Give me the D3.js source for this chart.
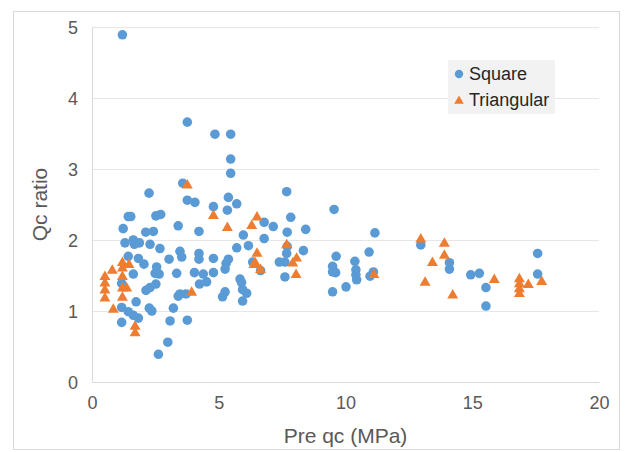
<!DOCTYPE html>
<html>
<head>
<meta charset="utf-8">
<script src="https://cdn.jsdelivr.net/npm/d3@7"></script>
<style>
  body { margin: 0; background: #fff; }
  svg { font-family: "Liberation Sans", Arial, sans-serif; }
</style>
</head>
<body>
<div id="chart"></div>
<script>
//** data
const squareX = [1.20, 3.76, 4.85, 5.47, 5.47, 5.47, 3.58, 2.25, 7.68, 5.38, 3.76, 4.06, 5.71, 4.79, 9.55, 5.34,
  1.43, 1.53, 2.52, 2.71, 7.84, 6.79, 3.40, 7.15, 1.23, 2.12, 2.42, 4.22, 7.70, 8.43, 11.16, 5.97, 6.79,
  1.30, 1.63, 1.67, 1.87, 2.29, 12.97, 6.17, 7.70, 5.71, 2.68, 8.34, 3.47, 10.93, 4.22, 7.68, 17.58,
  3.54, 9.63, 1.43, 1.83, 4.79, 4.22, 3.04, 5.38, 10.37, 6.34, 7.39, 7.61, 14.10, 5.29, 2.05, 9.49,
  2.55, 5.25, 14.10, 10.41, 6.65, 9.49, 11.10, 9.61, 4.04, 4.79, 2.49, 3.34, 15.28, 17.58, 2.65, 4.39,
  1.63, 14.94, 10.41, 10.97, 7.61, 5.84, 10.44, 4.52, 5.90, 1.17, 2.52, 4.24, 10.02, 2.29, 15.54,
  5.94, 2.13, 9.49, 5.25, 6.10, 3.47, 3.71, 3.40, 5.15, 5.94, 1.74, 15.54, 1.17, 2.26, 3.21, 2.36,
  1.43, 1.63, 1.83, 3.76, 3.08, 1.17, 2.99, 2.62];
const squareY = [4.89, 3.66, 3.49, 3.49, 3.14, 2.94, 2.80, 2.66, 2.68, 2.60, 2.56, 2.53, 2.51, 2.47, 2.43, 2.42,
  2.33, 2.33, 2.34, 2.36, 2.32, 2.25, 2.20, 2.19, 2.16, 2.11, 2.12, 2.12, 2.11, 2.15, 2.10, 2.07, 2.02,
  1.96, 2.00, 1.94, 1.96, 1.94, 1.93, 1.92, 1.91, 1.89, 1.88, 1.85, 1.84, 1.83, 1.81, 1.81, 1.81,
  1.76, 1.77, 1.77, 1.74, 1.74, 1.73, 1.73, 1.73, 1.70, 1.69, 1.69, 1.69, 1.68, 1.67, 1.66, 1.63,
  1.62, 1.59, 1.59, 1.58, 1.57, 1.55, 1.55, 1.54, 1.54, 1.54, 1.53, 1.53, 1.53, 1.52, 1.52, 1.52,
  1.52, 1.51, 1.51, 1.49, 1.48, 1.45, 1.44, 1.41, 1.40, 1.39, 1.38, 1.38, 1.34, 1.33, 1.33,
  1.30, 1.29, 1.27, 1.27, 1.25, 1.24, 1.24, 1.21, 1.20, 1.14, 1.13, 1.07, 1.05, 1.04, 1.04, 1.00,
  0.99, 0.94, 0.90, 0.87, 0.86, 0.84, 0.56, 0.39];

const triangularX = [3.76, 0.51, 0.51, 0.51, 0.51, 0.80, 1.20, 1.20, 1.46, 1.20, 1.20, 1.20, 1.37, 0.84, 3.93,
  1.70, 1.70, 4.79, 5.34, 6.51, 6.30, 7.68, 6.51, 6.43, 6.39, 6.65, 8.07, 7.92, 8.05, 11.12, 12.97,
  13.14, 13.90, 13.90, 13.43, 14.23, 15.87, 16.86, 16.86, 16.86, 16.86, 17.21, 17.74];
const triangularY = [2.77, 1.48, 1.39, 1.29, 1.18, 1.57, 1.68, 1.60, 1.65, 1.48, 1.32, 1.19, 1.32, 1.02, 1.26,
  0.78, 0.69, 2.34, 2.17, 2.32, 2.20, 1.93, 1.81, 1.68, 1.65, 1.58, 1.74, 1.67, 1.51, 1.51, 2.01,
  1.40, 1.95, 1.78, 1.68, 1.22, 1.44, 1.45, 1.38, 1.31, 1.24, 1.37, 1.41];

const xTicks = [0, 5, 10, 15, 20];
const yTicks = [0, 1, 2, 3, 4, 5];

const seriesNames = ['Square', 'Triangular'];
const seriesColors = ['#5b9bd5', '#ed7d31'];

//** layout
const W = 629, H = 452;
const margins = {left: 92, right: 30, top: 27, bottom: 70};
const w = W - margins.left - margins.right;
const h = H - margins.top - margins.bottom;
const textGray = '#595959';

const svg = d3.select('#chart').append('svg')
  .attr('width', W)
  .attr('height', H);

//** outer chart border
svg.append('rect')
  .attr('x', 13.5).attr('y', 11.5)
  .attr('width', 606).attr('height', 438)
  .attr('fill', '#fff')
  .attr('stroke', '#d9d9d9');

const g = svg.append('g')
  .attr('transform', 'translate(' + margins.left + ',' + margins.top + ')');

//** scales
const x = d3.scaleLinear().domain([0, 20]).range([0, w]);
const y = d3.scaleLinear().domain([0, 5]).range([h, 0]);

//** horizontal gridlines
g.append('g')
  .attr('class', 'grid')
  .call(d3.axisLeft(y).tickValues(yTicks.slice(1)).tickSize(-w).tickFormat(''))
  .call(s => s.select('.domain').remove())
  .call(s => s.selectAll('line').attr('stroke', '#e6e6e6'));

//** x axis
g.append('g')
  .attr('class', 'xx axis')
  .attr('transform', 'translate(0,' + h + ')')
  .call(d3.axisBottom(x).tickValues(xTicks).tickFormat(d3.format('d')).tickSize(0).tickPadding(14))
  .call(s => s.select('.domain').attr('stroke', '#d9d9d9'))
  .call(s => s.selectAll('text')
    .attr('fill', textGray)
    .style('font-size', '18px'));

//** y axis
g.append('g')
  .attr('class', 'yy axis')
  .call(d3.axisLeft(y).tickValues(yTicks).tickFormat(d3.format('d')).tickSize(0).tickPadding(14))
  .call(s => s.select('.domain').attr('stroke', '#d9d9d9'))
  .call(s => s.selectAll('text')
    .attr('fill', textGray)
    .attr('dy', '0.35em')
    .style('font-size', '18px'));

//** axis titles
svg.append('text')
  .attr('x', margins.left + w / 2)
  .attr('y', 443)
  .attr('text-anchor', 'middle')
  .attr('fill', textGray)
  .style('font-size', '21px')
  .text('Pre qc (MPa)');

svg.append('text')
  .attr('transform', 'translate(47,' + (margins.top + h / 2) + ') rotate(-90)')
  .attr('text-anchor', 'middle')
  .attr('fill', textGray)
  .style('font-size', '21px')
  .text('Qc ratio');

//** points
const squareData = squareX.map((v, i) => ({x: v, y: squareY[i]}));
const triangularData = triangularX.map((v, i) => ({x: v, y: triangularY[i]}));

const circle = d3.symbol().type(d3.symbolCircle).size(72);
const triangle = d3.symbol().type(d3.symbolTriangle).size(52);

g.append('g').selectAll('path')
  .data(squareData)
  .enter().append('path')
  .attr('d', circle)
  .attr('fill', seriesColors[0])
  .attr('transform', d => 'translate(' + x(d.x) + ',' + y(d.y) + ')');

g.append('g').selectAll('path')
  .data(triangularData)
  .enter().append('path')
  .attr('d', triangle)
  .attr('fill', seriesColors[1])
  .attr('transform', d => 'translate(' + x(d.x) + ',' + y(d.y) + ')');

//** legenda
const gLegenda = svg.append('g').attr('transform', 'translate(448,60)');
gLegenda.append('rect')
  .attr('width', 107).attr('height', 54)
  .attr('fill', '#f2f2f2');

seriesNames.forEach((name, i) => {
  const item = gLegenda.append('g')
    .attr('transform', 'translate(0,' + (14 + i * 26) + ')');
  item.append('path')
    .attr('d', d3.symbol().type(i ? d3.symbolTriangle : d3.symbolCircle).size(i ? 40 : 55))
    .attr('fill', seriesColors[i])
    .attr('transform', 'translate(11,' + (i ? 1 : 0) + ')');
  item.append('text')
    .attr('x', 21)
    .attr('dy', '0.35em')
    .attr('fill', '#262626')
    .style('font-size', '18px')
    .text(name);
});
</script>
</body>
</html>
